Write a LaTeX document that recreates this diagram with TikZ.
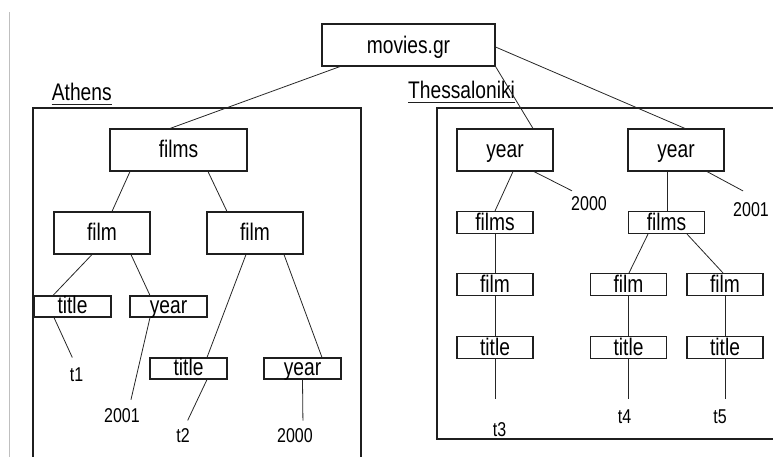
\documentclass[tikz,border=0pt]{standalone}
\usepackage{fontspec}
\setmainfont{Liberation Sans}[FakeStretch=0.8]
\begin{document}
\begin{tikzpicture}[x=1pt,y=-1pt,
  bigbox/.style={draw=black!88, line width=1.1pt, minimum width=96pt, minimum height=42pt,
    inner sep=0pt, text height=14pt, text depth=0pt, font=\fontsize{24}{26}\selectfont},
  smallbox/.style={bigbox, minimum width=77pt, minimum height=21pt, text height=13pt},
  tbox/.style={bigbox, minimum width=76pt, minimum height=22pt, text height=15pt},
  leaf/.style={inner sep=0pt, text height=14.3pt, text depth=0pt, font=\fontsize{20}{22}\selectfont},
  edge/.style={draw=black!85, line width=0.8pt},
  frame/.style={draw=black!88, line width=1.1pt},
  region/.style={inner sep=0pt, anchor=base west, text depth=3.5pt, font=\fontsize{24}{26}\selectfont}
]
\useasboundingbox (0,0) rectangle (773,456);

% page edge
\draw[black!25, line width=1pt] (9.5,12) -- (9.5,470);

% region frames and their underlined captions
\draw[frame] (33,470) |- (361,108) -- (361,470);
\draw[frame] (790,108) -| (437,439) -- (790,439);
\node[region] (athens) at (51.7,100.7) {Athens};
\draw[black!88, line width=0.9pt] (athens.south west) -- (athens.south east);
\node[region] (thess) at (408,98.5) {Thessaloniki};
\draw[black!88, line width=0.9pt] (thess.south west) -- (thess.south east);

% root
\node[bigbox, minimum width=173pt, text height=16.5pt] (movies) at (408.5,45) {movies.gr};

% Athens subtree
\node[bigbox, minimum width=137pt] (filmsA) at (178.5,150) {films};
\node[bigbox] (filmL) at (102,233) {film};
\node[bigbox] (filmR) at (255,233) {film};
\node[smallbox] (titleL) at (72.5,306.5) {title};
\node[smallbox] (yearL) at (168.5,306.5) {year};
\node[smallbox] (titleR) at (188.5,368.5) {title};
\node[smallbox] (yearR) at (302.5,368.5) {year};
\node[leaf] (t1) at (76.5,374) {t1};
\node[leaf] (a2001) at (122,415.5) {2001};
\node[leaf] (t2) at (183,435.5) {t2};
\node[leaf] (a2000) at (295,435.5) {2000};

% Thessaloniki subtree
\node[bigbox] (yearA) at (505,150) {year};
\node[bigbox] (yearB) at (676,150) {year};
\node[leaf] (b2000) at (589,203) {2000};
\node[leaf] (b2001) at (751,209) {2001};
\node[tbox] (filmsB) at (495,222.5) {films};
\node[tbox] (filmsC) at (666.5,222.5) {films};
\node[tbox] (filmB) at (495,284.5) {film};
\node[tbox] (filmC) at (628.5,284.5) {film};
\node[tbox] (filmD) at (725,284.5) {film};
\node[tbox] (titleB) at (495,347.5) {title};
\node[tbox] (titleC) at (628.5,347.5) {title};
\node[tbox] (titleD) at (725,347.5) {title};
\node[leaf] (t3) at (499.5,429) {t3};
\node[leaf] (t4) at (624.5,416) {t4};
\node[leaf] (t5) at (720,416) {t5};

% connectors
\draw[edge] ([xshift=-68.5pt]movies.south) -- ([xshift=-8.5pt]filmsA.north);
\draw[edge] (movies.south east) -- ([xshift=28pt]yearA.north);
\draw[edge] ([yshift=-2pt]movies.east) -- ([xshift=9pt]yearB.north);

\draw[edge] ([xshift=-48.5pt]filmsA.south) -- ([xshift=10pt]filmL.north);
\draw[edge] ([xshift=29.5pt]filmsA.south) -- ([xshift=-28pt]filmR.north);
\draw[edge] ([xshift=-10pt]filmL.south) -- ([xshift=-19.5pt]titleL.north);
\draw[edge] ([xshift=29pt]filmL.south) -- ([xshift=-18.5pt]yearL.north);
\draw[edge, shorten >=10pt] ([xshift=-18.5pt]titleL.south) -- (t1.north);
\draw[edge, shorten >=8.6pt] ([xshift=-18.5pt]yearL.south) -- ([xshift=7pt]a2001.north);
\draw[edge] ([xshift=-9pt]filmR.south) -- ([xshift=18.5pt]titleR.north);
\draw[edge] ([xshift=29pt]filmR.south) -- ([xshift=19.5pt]yearR.north);
\draw[edge, shorten >=8.6pt] ([xshift=18.5pt]titleR.south) -- ([xshift=1pt]t2.north);
\draw[edge, shorten >=7.5pt] (yearR.south) -- ([xshift=8pt]a2000.north);

\draw[edge, shorten >=10.7pt] ([xshift=29pt]yearA.south) -- ([xshift=-7.5pt]b2000.north);
\draw[edge] ([xshift=8pt]yearA.south) -- (filmsB.north);
\draw[edge, shorten >=22.6pt] ([xshift=31pt]yearB.south) -- ([xshift=12pt]b2001.north);
\draw[edge] ([xshift=-9pt]yearB.south) -- ([xshift=0.5pt]filmsC.north);
\draw[edge] (filmsB) -- (filmB);
\draw[edge] ([xshift=-18.5pt]filmsC.south) -- ([xshift=0.5pt]filmC.north);
\draw[edge] ([xshift=20.5pt]filmsC.south) -- ([xshift=-2pt]filmD.north);
\draw[edge] (filmB) -- (titleB);
\draw[edge] (filmC) -- (titleC);
\draw[edge] (filmD) -- (titleD);
\draw[edge, shorten >=22.4pt] (titleB.south) -- ([xshift=-4.5pt]t3.north);
\draw[edge, shorten >=9.4pt] (titleC.south) -- ([xshift=4pt]t4.north);
\draw[edge, shorten >=9.4pt] (titleD.south) -- ([xshift=5pt]t5.north);
\end{tikzpicture}
\end{document}
